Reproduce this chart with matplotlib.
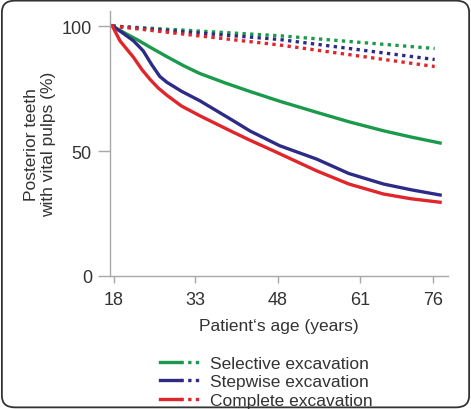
import matplotlib
matplotlib.use("Agg")
import matplotlib.pyplot as plt
from matplotlib.lines import Line2D
from matplotlib.legend_handler import HandlerTuple
from matplotlib.patches import FancyBboxPatch

plt.rcParams['font.family'] = ['Liberation Sans', 'DejaVu Sans']

# axis positions of the age ticks (the axis is not linear in years)
tick_pos = [18, 33, 48.4, 63.6, 77.1]
tick_labels = ['18', '33', '48', '61', '76']

x_sel = [17.7, 20.0, 22.5, 24.7, 28.0, 31.0, 33.9, 38.5, 43.2, 48.7, 55.5, 61.5, 67.9, 73.0, 78.4]
selective = [100, 97.2, 94.3, 91.5, 87.5, 84.0, 81.0, 77.3, 73.8, 69.9, 65.5, 61.7, 58.1, 55.6, 53.2]

x_step = [17.7, 19.5, 21.6, 23.4, 25.0, 26.5, 27.8, 30.5, 33.9, 40.1, 43.2, 48.7, 55.5, 61.5, 67.9, 73.0, 78.4]
stepwise = [100, 97.4, 94.1, 90.1, 84.5, 79.8, 77.5, 73.9, 70.1, 62.1, 58.0, 52.1, 46.8, 41.0, 36.8, 34.5, 32.4]

x_comp = [17.7, 19.1, 21.6, 23.2, 24.7, 26.2, 27.8, 30.5, 33.9, 40.1, 43.2, 47.5, 52.0, 55.5, 61.5, 67.9, 73.0, 78.4]
complete = [100, 94.1, 87.5, 82.5, 78.6, 75.2, 72.3, 68.0, 64.1, 57.5, 54.3, 50.1, 45.6, 42.1, 36.8, 32.8, 30.9, 29.5]

# dotted curves (nearly straight)
x_dot = [17.7, 48.7, 77.4]
selective_dot = [100, 96.1, 91.0]
stepwise_dot = [100, 94.6, 86.6]
complete_dot = [100, 92.4, 83.8]

green = '#1a9a4a'
blue = '#2e2b86'
red = '#e0252b'

fig = plt.figure(figsize=(4.71, 4.10), dpi=100)
ax = fig.add_axes([0.2335, 0.3244, 0.7175, 0.6463])

dot = (0, (1, 1.3))
ax.plot(x_dot, selective_dot, color=green, lw=2.4, ls=dot)
ax.plot(x_dot, stepwise_dot, color=blue, lw=2.4, ls=dot)
ax.plot(x_dot, complete_dot, color=red, lw=2.4, ls=dot)
ax.plot(x_sel, selective, color=green, lw=2.4)
ax.plot(x_step, stepwise, color=blue, lw=2.4)
ax.plot(x_comp, complete, color=red, lw=2.4)

ax.set_xlim(17.26, 79.85)
ax.set_ylim(0, 106)
ax.set_xticks(tick_pos)
ax.set_xticklabels(tick_labels)
ax.set_yticks([0, 50, 100])

for s in ['top', 'right']:
    ax.spines[s].set_visible(False)
for s in ['left', 'bottom']:
    ax.spines[s].set_color('#a8a8a8')
    ax.spines[s].set_linewidth(1.0)
ax.tick_params(axis='y', length=9, width=1, color='#a8a8a8', labelsize=13, pad=4, labelcolor='#333333')
ax.tick_params(axis='x', length=5, width=1, color='#a8a8a8', labelsize=13, pad=6, labelcolor='#333333')

ax.set_xlabel('Patient\u2018s age (years)', fontsize=12.5, color='#333333', labelpad=7)
ax.set_ylabel('Posterior teeth\nwith vital pulps (%)', fontsize=12.5, color='#333333', labelpad=4)

handles = [
    (Line2D([], [], color=green, lw=2.4), Line2D([], [], color=green, lw=2.4, ls=dot)),
    (Line2D([], [], color=blue, lw=2.4), Line2D([], [], color=blue, lw=2.4, ls=dot)),
    (Line2D([], [], color=red, lw=2.4), Line2D([], [], color=red, lw=2.4, ls=dot)),
]
names = ['Selective excavation', 'Stepwise excavation', 'Complete excavation']
fig.legend(handles, names, handler_map={tuple: HandlerTuple(ndivide=None, pad=0)},
           loc='upper left', bbox_to_anchor=(0.34, 0.13), frameon=False,
           fontsize=12.5, handlelength=2.3, handletextpad=0.55, labelspacing=0.2,
           labelcolor='#333333', borderpad=0, borderaxespad=0)

border = FancyBboxPatch((0.004, 0.004), 0.992, 0.992, boxstyle='round,pad=0,rounding_size=0.028',
                        transform=fig.transFigure, fill=False, edgecolor='#333333', lw=1.3)
fig.patches.append(border)

fig.savefig('out.png', dpi=100)
